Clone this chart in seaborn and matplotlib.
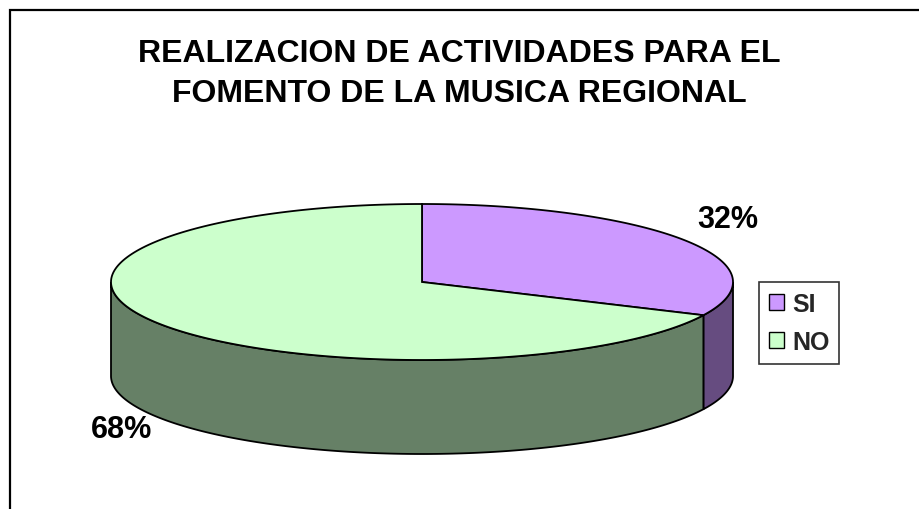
import numpy as np
import matplotlib
matplotlib.use("Agg")
import matplotlib.pyplot as plt
from matplotlib.patches import Polygon, Rectangle, Patch
import seaborn as sns

# datos del grafico
labels = ["SI", "NO"]
values = [32, 68]
top_colors = ["#CC99FF", "#CCFFCC"]
side_colors = ["#664C80", "#668066"]
title = "REALIZACION DE ACTIVIDADES PARA EL\nFOMENTO DE LA MUSICA REGIONAL"

sns.set_theme(style="white")
plt.rcParams["font.family"] = ["Liberation Sans", "DejaVu Sans"]

W, H = 920, 510
fig = plt.figure(figsize=(W / 100, H / 100), dpi=100)
ax = fig.add_axes([0, 0, 1, 1])
ax.set_xlim(0, W)
ax.set_ylim(H, 0)
ax.axis("off")

# geometria del pastel 3D (pixeles)
cx, cy, a, b, depth = 422, 283, 311, 78, 94


def ellipse_pts(t0, t1, dy=0, n=200):
    t = np.radians(np.linspace(t0, t1, n))
    return np.column_stack([cx + a * np.sin(t), cy - b * np.cos(t) + dy])


total = sum(values)
bounds = np.concatenate([[0], np.cumsum(values) / total * 360])

# paredes laterales (solo la mitad frontal, 90..270 grados)
for i in range(len(values)):
    t0, t1 = max(bounds[i], 90), min(bounds[i + 1], 270)
    if t1 <= t0:
        continue
    top = ellipse_pts(t0, t1)
    bot = ellipse_pts(t0, t1, dy=depth)[::-1]
    ax.add_patch(Polygon(np.vstack([top, bot]), closed=True,
                         facecolor=side_colors[i], edgecolor="black", lw=1.3))

# cara superior
for i in range(len(values)):
    pts = np.vstack([[cx, cy], ellipse_pts(bounds[i], bounds[i + 1])])
    ax.add_patch(Polygon(pts, closed=True, facecolor=top_colors[i],
                         edgecolor="black", lw=1.3))

# etiquetas de porcentaje
label_pos = [(728, 220), (122, 430)]
for (x, y), v in zip(label_pos, values):
    ax.text(x, y, f"{v / total * 100:.0f}%", ha="center", va="center",
            fontsize=22, fontweight="bold", color="black")

ax.text(459, 74, title, ha="center", va="center", fontsize=23,
        fontweight="bold", linespacing=1.45, color="black")

# marco exterior
fig.patches.append(Rectangle((10 / W, -0.1), 1.0, 1 - 11 / H + 0.1,
                             transform=fig.transFigure, fill=False,
                             edgecolor="black", lw=1.6))

handles = [Patch(facecolor=c, edgecolor="black", lw=1) for c in top_colors]
leg = fig.legend(handles, labels, loc="upper left",
                 bbox_to_anchor=(759 / W, 1 - 283 / H),
                 prop={"weight": "bold", "size": 18}, frameon=True,
                 fancybox=False, handlelength=0.62, handleheight=0.62,
                 handletextpad=0.3, labelspacing=0.55, borderpad=0.4,
                 borderaxespad=0)
leg.get_frame().set_edgecolor("black")
leg.get_frame().set_linewidth(1.2)

fig.savefig("out.png", dpi=100)
